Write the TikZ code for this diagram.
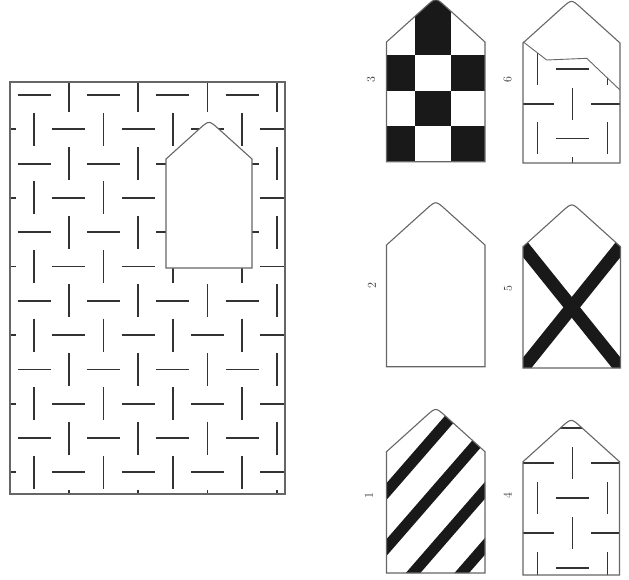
\documentclass[tikz,border=0pt]{standalone}
\newcommand\hpath[4]{(#1,#4) -- (#1,#3) -- ({(#1+#2)/2-9.4},{#3-(#2-#1)/2*0.9+8.4}) .. controls ({(#1+#2)/2},{#3-(#2-#1)/2*0.9}) .. ({(#1+#2)/2+9.4},{#3-(#2-#1)/2*0.9+8.4}) -- (#2,#3) -- (#2,#4) -- cycle}
\tikzset{
  dsh/.style={line width=1.8pt, draw=black!80},
  outl/.style={line width=1.1pt, draw=black!60},
  band/.style={line width=12pt, draw=black!90},
  lab/.style={font=\fontsize{12}{12}\selectfont, text=black!80, inner sep=0pt, rotate=90}
}
\begin{document}
\begin{tikzpicture}[x=1pt,y=-1pt]
\useasboundingbox (0,0) rectangle (629,579);
% ---- main panel ----
\begin{scope}
\clip (10,82) rectangle (285,494);
\foreach \r in {-1,...,12}{\foreach \i in {-1,...,8}{
  \pgfmathsetmacro\xx{34+34.7*\i}\pgfmathsetmacro\yy{95+34.3*\r}
  \pgfmathtruncatemacro\p{mod(\i+\r+20,2)}
  \ifnum\p=0 \draw[dsh] (\xx-16.5,\yy) -- (\xx+16.5,\yy);\else \draw[dsh] (\xx,\yy-16.5) -- (\xx,\yy+16.5);\fi}}
\end{scope}
\draw[outl] (10,82) rectangle (285,494);
\filldraw[fill=white, outl] \hpath{166}{252}{159}{268};
% ---- option 3: checkerboard ----
\begin{scope}
\clip \hpath{386.5}{485}{42}{161.7};
\fill[black!90] (386.5,126) rectangle (415,161.7);
\fill[black!90] (450.7,126) rectangle (485,161.7);
\fill[black!90] (415,90.7) rectangle (450.7,126);
\fill[black!90] (386.5,55) rectangle (415,90.7);
\fill[black!90] (450.7,55) rectangle (485,90.7);
\fill[black!90] (415,0) rectangle (450.7,55);
\end{scope}
\draw[outl] \hpath{386.5}{485}{42}{161.7};
% ---- option 6: partial pattern ----
\begin{scope}
\clip \hpath{523}{620}{43}{163};
\clip (523,41.7) -- (546.7,60) -- (586.7,58.3) -- (620,90) -- (640,90) -- (640,200) -- (500,200) -- (500,41.7) -- cycle;
\foreach \k in {-1,...,3}{\foreach \c in {-1,...,3}{
  \pgfmathsetmacro\xx{537.5+35*\c}\pgfmathsetmacro\yy{69+34.7*\k}
  \pgfmathtruncatemacro\p{mod(\c+\k+20,2)}
  \ifnum\p=0 \draw[dsh] (\xx,\yy-16) -- (\xx,\yy+16);\else \draw[dsh] (\xx-16.5,\yy) -- (\xx+16.5,\yy);\fi}}
\end{scope}
\draw[outl] \hpath{523}{620}{43}{163};
\draw[outl, line width=0.9pt] (523,41.7) -- (546.7,60) -- (586.7,58.3) -- (620,90);
% ---- option 2: blank ----
\draw[outl] \hpath{386.5}{485}{245}{366.7};
% ---- option 5: cross ----
\begin{scope}
\clip \hpath{523}{620.5}{246.7}{368};
\draw[band, line width=13pt] (513.3,234.6) -- (630.2,380.1);
\draw[band, line width=13pt] (630.2,234.6) -- (513.3,380.1);
\end{scope}
\draw[outl] \hpath{523}{620.5}{246.7}{368};
% ---- option 1: stripes ----
\begin{scope}
\clip \hpath{386.5}{485}{451.7}{573};
\foreach \c in {936,992,1048,1104}{
  \draw[band, line width=11pt] (370,\c-425.5) -- (500,\c-575);}
\end{scope}
\draw[outl] \hpath{386.5}{485}{451.7}{573};
% ---- option 4: pattern ----
\begin{scope}
\clip \hpath{523}{619.5}{461.7}{575};
\foreach \k in {-1,...,3}{\foreach \c in {-1,...,3}{
  \pgfmathsetmacro\xx{537.5+35*\c}\pgfmathsetmacro\yy{463.3+35*\k}
  \pgfmathtruncatemacro\p{mod(\c+\k+20,2)}
  \ifnum\p=1 \draw[dsh] (\xx,\yy-16) -- (\xx,\yy+16);\else \draw[dsh] (\xx-16.5,\yy) -- (\xx+16.5,\yy);\fi}}
\end{scope}
\draw[outl] \hpath{523}{619.5}{461.7}{575};
% ---- labels ----
\node[lab] (l3) at (371,79.5) {3};
\node[lab] (l6) at (507.5,80) {6};
\node[lab] (l2) at (372,285.5) {2};
\node[lab] (l5) at (508,289) {5};
\node[lab] (l1) at (369,495.5) {1};
\node[lab] (l4) at (507.5,496) {4};
\end{tikzpicture}
\end{document}
